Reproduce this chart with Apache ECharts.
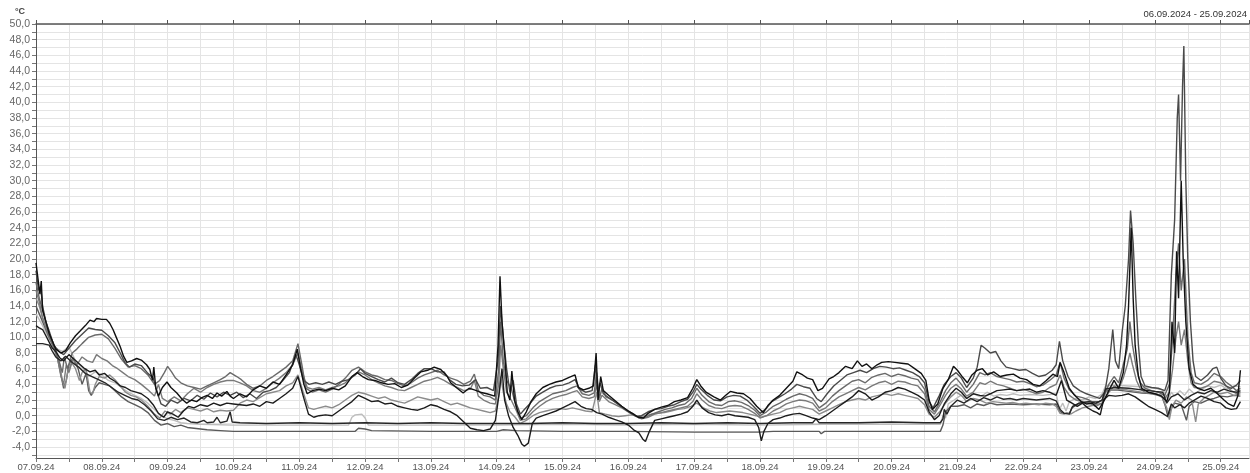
<!DOCTYPE html>
<html><head><meta charset="utf-8">
<script src="https://cdn.jsdelivr.net/npm/echarts@6/dist/echarts.min.js"></script>
<style>html,body{margin:0;padding:0;background:#fff}#c{width:1250px;height:473px}</style>
</head><body><div id="c"></div><script>
const unitLabel = '°C';
const rangeTitle = '06.09.2024 - 25.09.2024';
const monthSuffix = '.09.24';
const yLabelValues = [-4,-2,0,2,4,6,8,10,12,14,16,18,20,22,24,26,28,30,32,34,36,38,40,42,44,46,48,50];
const yTickValues = [-5,-4,-3,-2,-1,0,1,2,3,4,5,6,7,8,9,10,11,12,13,14,15,16,17,18,19,20,21,22,23,24,25,26,27,28,29,30,31,32,33,34,35,36,37,38,39,40,41,42,43,44,45,46,47,48,49,50];

// [day of September (fractional), °C]
const sensor1 = [[7.0,19.5],[7.03,17.5],[7.06,15.5],[7.08,17.2],[7.10,13.5],[7.15,12],[7.2,10.5],[7.25,9.5],[7.3,8.5],[7.38,8.0],[7.45,8.3],[7.52,9.3],[7.6,10.2],[7.67,10.8],[7.75,11.5],[7.82,12.2],[7.88,12.0],[7.92,12.4],[8.0,12.3],[8.07,12.3],[8.12,11.8],[8.17,11.0],[8.22,10],[8.28,8.8],[8.33,7.6],[8.38,6.8],[8.45,7.0],[8.53,7.3],[8.6,7.1],[8.68,6.5],[8.73,5.9],[8.77,4.5],[8.79,6.2],[8.82,3.5],[8.86,2.5],[8.92,3.6],[8.99,4.3],[9.05,3.6],[9.14,2.9],[9.22,2.1],[9.29,1.6],[9.36,2.0],[9.44,1.8],[9.52,2.3],[9.6,2.6],[9.68,2.2],[9.75,2.9],[9.82,2.5],[9.9,3.1],[9.95,2.5],[10.0,2.2],[10.1,2.8],[10.2,2.4],[10.3,3.3],[10.4,3.8],[10.5,3.5],[10.6,4.3],[10.7,4.0],[10.8,5.2],[10.9,6.5],[10.97,8.5],[11.02,6.0],[11.07,4.0],[11.12,2.8],[11.2,3.2],[11.3,3.4],[11.4,3.2],[11.5,3.5],[11.6,3.3],[11.7,3.8],[11.8,5.0],[11.88,5.5],[11.96,5.0],[12.05,4.6],[12.15,4.5],[12.25,4.2],[12.35,4.0],[12.45,4.1],[12.55,3.6],[12.65,3.9],[12.75,4.8],[12.85,5.6],[12.95,5.8],[13.05,6.2],[13.15,5.9],[13.25,5.0],[13.3,4.2],[13.4,3.5],[13.49,2.9],[13.58,3.5],[13.66,3.3],[13.75,3.0],[13.85,2.8],[13.97,2.5],[14.02,9],[14.05,17.8],[14.08,12],[14.12,8],[14.16,3],[14.2,2],[14.23,5.7],[14.27,2],[14.32,0.5],[14.38,-0.5],[14.45,0.5],[14.52,1.8],[14.6,2.8],[14.7,3.6],[14.8,4.0],[14.9,4.3],[15.0,4.5],[15.1,4.9],[15.19,5.2],[15.24,3.6],[15.32,3.3],[15.4,3.5],[15.47,3.8],[15.51,8.0],[15.54,2.0],[15.58,5.0],[15.62,3.2],[15.7,2.6],[15.8,1.9],[15.9,1.2],[16.0,0.6],[16.08,0.2],[16.15,-0.2],[16.23,-0.3],[16.3,0.3],[16.4,0.8],[16.5,1.1],[16.6,1.3],[16.7,1.8],[16.8,2.0],[16.9,2.3],[16.98,3.5],[17.04,4.6],[17.1,3.8],[17.18,3.0],[17.3,2.4],[17.4,2.0],[17.48,2.6],[17.55,3.1],[17.65,2.9],[17.75,2.8],[17.85,2.2],[17.95,1.2],[18.05,0.4],[18.12,1.3],[18.2,2.0],[18.3,2.6],[18.4,3.5],[18.5,4.4],[18.56,5.6],[18.65,5.2],[18.72,4.8],[18.8,4.6],[18.88,3.2],[18.95,3.5],[19.05,4.7],[19.12,5.0],[19.2,5.5],[19.3,6.3],[19.4,6.0],[19.48,7.0],[19.55,6.3],[19.62,6.6],[19.7,6.0],[19.78,6.5],[19.85,6.8],[19.95,6.9],[20.05,6.8],[20.15,6.7],[20.25,6.6],[20.35,6.0],[20.45,5.4],[20.52,4.5],[20.57,2.0],[20.62,0.8],[20.7,1.5],[20.78,3.5],[20.86,4.6],[20.94,6.3],[21.0,5.8],[21.08,4.9],[21.15,4.2],[21.22,5.2],[21.3,5.8],[21.38,6.0],[21.46,5.2],[21.55,5.6],[21.65,5.0],[21.75,5.2],[21.85,5.3],[21.95,4.8],[22.05,4.6],[22.15,4.0],[22.25,3.8],[22.35,4.5],[22.45,5.3],[22.52,5.0],[22.56,6.8],[22.62,5.5],[22.7,3.5],[22.78,2.6],[22.88,1.8],[22.96,1.5],[23.05,1.6],[23.15,0.8],[23.22,1.8],[23.3,3.2],[23.38,4.5],[23.45,3.5],[23.52,5.5],[23.57,9],[23.6,14],[23.64,24],[23.67,15],[23.7,9],[23.75,5],[23.8,3.5],[23.9,3.0],[24.0,2.8],[24.1,2.5],[24.18,1.8],[24.22,3],[24.26,12],[24.3,8],[24.33,21],[24.36,15],[24.4,30],[24.43,20],[24.47,12],[24.52,6],[24.58,4],[24.65,3.5],[24.75,3.2],[24.85,3.5],[24.95,2.8],[25.05,2.0],[25.12,1.5],[25.2,1.2],[25.26,2.5],[25.3,5.8]];

const sensor2 = [[7.0,18.5],[7.04,16],[7.07,16.5],[7.1,14],[7.15,12],[7.2,10.8],[7.27,9],[7.35,8.2],[7.42,7.8],[7.5,8.6],[7.6,9.6],[7.7,10.4],[7.8,11.2],[7.9,11.0],[8.0,10.9],[8.1,10.2],[8.2,9.3],[8.28,8.0],[8.35,6.8],[8.42,6.2],[8.5,6.6],[8.6,6.4],[8.7,5.4],[8.78,4.8],[8.84,3.0],[8.9,1.5],[8.97,1.2],[9.05,2.0],[9.15,1.6],[9.25,2.2],[9.35,1.9],[9.45,2.6],[9.55,2.1],[9.65,2.9],[9.75,2.4],[9.85,3.0],[9.95,2.6],[10.05,3.0],[10.15,2.3],[10.25,2.8],[10.35,2.2],[10.45,3.0],[10.55,3.2],[10.65,3.6],[10.75,4.5],[10.85,5.5],[10.95,7.8],[11.0,6.5],[11.07,4.5],[11.15,4.0],[11.25,4.2],[11.35,4.0],[11.45,4.3],[11.55,4.0],[11.65,4.4],[11.75,4.6],[11.85,5.2],[11.93,6.0],[12.0,5.4],[12.1,5.0],[12.2,4.6],[12.3,4.3],[12.4,4.8],[12.5,4.2],[12.6,4.0],[12.7,4.6],[12.8,5.4],[12.9,6.0],[13.0,6.0],[13.1,5.6],[13.2,5.6],[13.28,4.6],[13.38,4.0],[13.48,3.8],[13.58,3.9],[13.68,4.6],[13.75,3.5],[13.85,3.6],[13.95,3.2],[14.02,7],[14.06,14],[14.1,10],[14.15,6],[14.2,3],[14.25,4.5],[14.3,1.5],[14.36,0.2],[14.42,0.8],[14.5,1.5],[14.6,2.5],[14.7,3.0],[14.8,3.5],[14.9,3.8],[15.0,3.9],[15.1,4.2],[15.19,4.6],[15.26,3.4],[15.35,3.0],[15.45,3.2],[15.5,6.5],[15.53,3],[15.57,4.2],[15.62,2.8],[15.72,2.2],[15.82,1.6],[15.92,1.0],[16.02,0.4],[16.12,-0.1],[16.2,0.0],[16.3,0.5],[16.4,0.8],[16.5,0.9],[16.6,1.2],[16.7,1.4],[16.8,1.8],[16.9,2.1],[16.98,3.0],[17.04,4.0],[17.1,3.4],[17.2,2.6],[17.3,2.0],[17.4,1.9],[17.5,2.4],[17.6,2.6],[17.7,2.5],[17.8,2.0],[17.9,1.2],[18.0,0.3],[18.08,0.8],[18.18,1.8],[18.28,2.3],[18.38,2.8],[18.48,3.4],[18.56,4.0],[18.66,3.7],[18.76,3.5],[18.86,2.2],[18.93,1.8],[19.02,2.8],[19.12,3.8],[19.22,4.5],[19.32,5.2],[19.42,5.5],[19.52,5.8],[19.62,5.5],[19.72,6.0],[19.82,6.3],[19.92,6.2],[20.02,6.0],[20.12,6.1],[20.22,5.8],[20.32,5.5],[20.42,5.0],[20.5,4.2],[20.57,1.8],[20.63,1.0],[20.72,2.5],[20.8,4.0],[20.9,5.0],[20.98,5.5],[21.06,4.8],[21.14,3.6],[21.24,4.8],[21.3,6.2],[21.36,9.0],[21.42,8.6],[21.5,8.0],[21.58,8.2],[21.66,7.0],[21.74,6.2],[21.84,6.0],[21.94,5.8],[22.04,5.9],[22.14,5.4],[22.24,5.0],[22.34,5.2],[22.44,5.8],[22.5,6.5],[22.55,9.5],[22.6,7.0],[22.68,5.0],[22.76,3.8],[22.86,3.2],[22.96,2.8],[23.06,2.5],[23.16,2.2],[23.24,3.0],[23.3,6.0],[23.36,11.0],[23.4,7],[23.45,6],[23.5,10.5],[23.55,14],[23.6,20],[23.63,26.2],[23.67,22],[23.71,15],[23.75,9],[23.79,5],[23.85,3.8],[23.95,3.6],[24.05,3.5],[24.15,3.2],[24.2,4.5],[24.25,18],[24.3,25],[24.34,38],[24.36,41],[24.39,30],[24.42,42],[24.44,47.2],[24.47,30],[24.5,20],[24.54,12],[24.58,7],[24.62,5],[24.7,4.5],[24.8,5.2],[24.88,6.0],[24.94,6.2],[25.0,4.8],[25.08,3.8],[25.16,3.5],[25.24,3.9],[25.3,4.5]];

const sensor3 = [[7.0,17],[7.05,15],[7.1,13.5],[7.15,12],[7.2,10.2],[7.28,8.5],[7.35,7.0],[7.4,5.5],[7.43,7.5],[7.48,6.0],[7.55,8.0],[7.62,8.5],[7.7,9.2],[7.8,10.0],[7.9,10.3],[8.0,10.4],[8.1,9.8],[8.2,8.6],[8.3,7.2],[8.4,6.2],[8.5,6.4],[8.6,6.0],[8.7,5.2],[8.8,4.0],[8.88,4.5],[8.95,5.5],[9.0,6.3],[9.06,5.6],[9.12,4.8],[9.2,4.2],[9.3,3.8],[9.4,3.6],[9.5,3.4],[9.6,3.8],[9.7,4.2],[9.8,4.6],[9.88,5.0],[9.95,5.5],[10.05,5.0],[10.12,4.6],[10.2,4.0],[10.3,3.5],[10.4,3.8],[10.5,4.5],[10.6,5.0],[10.7,5.6],[10.8,6.2],[10.9,7.0],[10.98,9.2],[11.04,6.5],[11.1,3.5],[11.2,3.0],[11.3,3.3],[11.4,3.0],[11.5,3.4],[11.6,4.0],[11.7,4.8],[11.8,5.8],[11.9,6.2],[12.0,5.6],[12.1,5.2],[12.2,5.0],[12.3,4.6],[12.4,4.5],[12.5,4.1],[12.6,3.8],[12.7,4.2],[12.8,4.8],[12.9,5.2],[13.0,5.5],[13.1,5.8],[13.2,5.2],[13.3,4.8],[13.4,4.5],[13.5,4.0],[13.6,4.4],[13.66,5.3],[13.72,3.2],[13.8,2.6],[13.9,2.4],[13.98,2.0],[14.03,6],[14.06,12],[14.1,7],[14.15,4.5],[14.22,3.5],[14.3,1.0],[14.36,-0.3],[14.45,0.0],[14.55,1.0],[14.65,1.8],[14.75,2.3],[14.85,2.8],[14.95,3.0],[15.05,3.2],[15.15,3.6],[15.22,3.8],[15.3,2.8],[15.4,2.6],[15.48,2.9],[15.52,5.5],[15.56,2.2],[15.6,3.5],[15.66,2.4],[15.76,2.0],[15.86,1.4],[15.96,0.8],[16.06,0.3],[16.16,-0.3],[16.26,-0.2],[16.36,0.2],[16.46,0.5],[16.56,0.8],[16.66,1.0],[16.76,1.3],[16.86,1.5],[16.96,2.2],[17.04,3.5],[17.12,2.6],[17.22,1.8],[17.32,1.4],[17.42,1.3],[17.52,1.8],[17.62,1.9],[17.72,1.7],[17.82,1.3],[17.92,0.7],[18.0,0.0],[18.1,0.5],[18.2,1.2],[18.3,1.6],[18.4,2.1],[18.5,2.5],[18.6,2.8],[18.7,2.6],[18.8,2.2],[18.9,1.0],[19.0,1.6],[19.1,2.5],[19.2,3.2],[19.3,3.8],[19.4,4.4],[19.5,4.6],[19.6,4.2],[19.7,4.9],[19.8,5.2],[19.9,5.4],[20.0,5.0],[20.1,5.3],[20.2,5.1],[20.3,4.8],[20.4,4.6],[20.5,3.4],[20.57,1.2],[20.65,0.5],[20.74,1.8],[20.82,3.2],[20.9,4.2],[20.98,4.8],[21.06,4.0],[21.14,3.0],[21.24,4.0],[21.34,5.5],[21.42,5.2],[21.5,5.5],[21.6,5.0],[21.7,4.8],[21.8,4.6],[21.9,4.3],[22.0,4.4],[22.1,4.1],[22.2,3.7],[22.3,3.9],[22.4,4.5],[22.5,5.2],[22.56,6.8],[22.62,4.8],[22.7,3.3],[22.8,2.5],[22.9,2.3],[23.0,2.0],[23.1,1.5],[23.2,2.0],[23.3,4.0],[23.38,5.0],[23.45,4.2],[23.52,6.5],[23.58,8.5],[23.62,12],[23.66,9],[23.72,6],[23.78,4.2],[23.85,3.5],[23.95,3.2],[24.05,3.0],[24.15,2.6],[24.22,4],[24.27,10],[24.32,18],[24.36,22],[24.4,16],[24.45,20],[24.5,10],[24.55,5.5],[24.6,4.2],[24.7,4.0],[24.8,4.5],[24.9,5.4],[25.0,5.0],[25.08,4.3],[25.16,3.8],[25.24,3.2],[25.3,3.5]];

const sensor4 = [[7.0,16],[7.05,14.5],[7.1,12.5],[7.15,11.2],[7.2,10],[7.27,8.6],[7.33,7.2],[7.38,5.0],[7.42,4.0],[7.46,6.5],[7.5,5.5],[7.56,7.2],[7.62,6.5],[7.7,7.5],[7.78,7.0],[7.86,6.8],[7.92,7.8],[8.0,7.3],[8.08,7.0],[8.16,6.4],[8.24,6.0],[8.32,5.5],[8.4,5.0],[8.5,4.6],[8.6,4.0],[8.7,3.3],[8.8,2.5],[8.86,4.0],[8.92,2.2],[9.0,1.8],[9.1,2.4],[9.2,1.9],[9.3,2.8],[9.4,3.5],[9.5,3.0],[9.6,3.6],[9.7,4.0],[9.8,4.3],[9.9,4.5],[10.0,4.5],[10.1,4.2],[10.2,3.8],[10.3,3.2],[10.4,3.0],[10.5,3.5],[10.6,4.2],[10.7,4.8],[10.8,5.5],[10.9,6.5],[10.98,8.0],[11.05,5.5],[11.12,3.6],[11.2,3.4],[11.3,3.6],[11.4,3.3],[11.5,3.6],[11.6,3.8],[11.7,4.2],[11.8,5.0],[11.9,5.6],[12.0,5.2],[12.1,4.6],[12.2,4.2],[12.3,3.8],[12.4,3.6],[12.5,3.3],[12.6,3.2],[12.7,3.6],[12.8,4.0],[12.9,4.4],[13.0,4.6],[13.1,4.9],[13.2,4.5],[13.3,4.0],[13.4,3.6],[13.5,3.2],[13.6,3.4],[13.66,4.5],[13.72,2.5],[13.8,2.0],[13.9,1.6],[13.98,1.5],[14.03,4],[14.06,9],[14.1,6],[14.15,3],[14.22,2.0],[14.3,0.6],[14.36,-0.6],[14.45,-0.4],[14.55,0.5],[14.65,1.2],[14.75,1.8],[14.85,2.2],[14.95,2.5],[15.05,2.7],[15.15,3.0],[15.22,3.2],[15.3,2.4],[15.4,2.2],[15.48,2.4],[15.52,4.0],[15.56,1.8],[15.6,2.6],[15.7,1.8],[15.8,1.4],[15.9,1.0],[16.0,0.5],[16.1,0.0],[16.2,-0.4],[16.3,-0.2],[16.4,0.2],[16.5,0.4],[16.6,0.6],[16.7,0.8],[16.8,1.0],[16.9,1.2],[16.98,1.8],[17.04,2.8],[17.12,2.0],[17.22,1.3],[17.32,1.0],[17.42,0.9],[17.52,1.2],[17.62,1.3],[17.72,1.2],[17.82,0.8],[17.92,0.3],[18.0,-0.3],[18.1,0.0],[18.2,0.6],[18.3,1.0],[18.4,1.5],[18.5,1.8],[18.6,2.0],[18.7,1.9],[18.8,1.6],[18.9,0.6],[19.0,1.0],[19.1,1.8],[19.2,2.4],[19.3,2.8],[19.4,3.2],[19.5,3.6],[19.6,3.3],[19.7,3.8],[19.8,4.2],[19.9,4.4],[20.0,4.0],[20.1,4.4],[20.2,4.3],[20.3,4.0],[20.4,3.8],[20.5,2.8],[20.57,0.8],[20.65,0.2],[20.74,1.4],[20.82,2.6],[20.9,3.5],[20.98,4.0],[21.06,3.4],[21.14,2.5],[21.24,3.0],[21.34,4.2],[21.42,4.0],[21.5,4.4],[21.6,4.0],[21.7,3.8],[21.8,3.5],[21.9,3.2],[22.0,3.4],[22.1,3.1],[22.2,2.8],[22.3,3.0],[22.4,3.6],[22.5,4.0],[22.56,5.2],[22.62,3.6],[22.7,2.6],[22.8,2.0],[22.9,1.8],[23.0,1.6],[23.1,1.2],[23.2,1.6],[23.3,3.0],[23.38,3.8],[23.45,3.4],[23.52,4.8],[23.58,6.5],[23.62,8],[23.66,6.5],[23.72,4.5],[23.78,3.4],[23.85,3.0],[23.95,2.8],[24.05,2.6],[24.15,2.2],[24.22,3],[24.27,6],[24.32,10],[24.36,12],[24.4,9],[24.45,11],[24.5,7],[24.55,4.2],[24.6,3.6],[24.7,3.5],[24.8,3.8],[24.9,4.4],[25.0,4.2],[25.08,3.8],[25.16,3.2],[25.24,2.8],[25.3,3.0]];

const sensor5 = [[7.0,11.5],[7.05,11.2],[7.1,11.0],[7.15,10.2],[7.2,9.4],[7.25,8.6],[7.3,8.2],[7.36,7.4],[7.42,7.0],[7.5,7.8],[7.58,7.2],[7.66,6.6],[7.74,6.0],[7.82,5.6],[7.9,5.8],[7.96,5.2],[8.04,5.4],[8.12,4.8],[8.2,4.4],[8.28,3.8],[8.36,3.6],[8.44,3.2],[8.52,3.0],[8.6,2.8],[8.7,2.2],[8.78,1.4],[8.86,0.3],[8.94,-0.2],[9.0,0.5],[9.08,0.2],[9.16,-0.2],[9.24,0.6],[9.32,1.2],[9.4,1.0],[9.5,1.4],[9.6,1.2],[9.7,1.6],[9.8,1.3],[9.9,1.6],[10.0,1.5],[10.1,1.4],[10.2,1.3],[10.3,1.5],[10.4,1.2],[10.5,1.8],[10.6,1.6],[10.7,2.2],[10.8,2.8],[10.9,3.5],[10.98,5.0],[11.06,2.5],[11.14,0.2],[11.22,-0.2],[11.3,0.0],[11.4,0.1],[11.5,0.0],[11.6,0.6],[11.7,1.2],[11.8,1.8],[11.9,2.6],[12.0,2.2],[12.1,1.8],[12.2,1.9],[12.3,1.5],[12.4,1.6],[12.5,1.2],[12.6,1.0],[12.7,0.8],[12.8,0.7],[12.9,1.0],[13.0,1.4],[13.1,1.2],[13.2,0.8],[13.3,0.5],[13.4,0.0],[13.5,-0.8],[13.6,-1.6],[13.7,-1.8],[13.8,-1.9],[13.9,-1.7],[13.98,-0.6],[14.04,3.0],[14.08,6.0],[14.12,2.0],[14.18,0.0],[14.25,-1.5],[14.32,-2.5],[14.38,-3.6],[14.42,-3.9],[14.48,-3.5],[14.54,-1.0],[14.6,-0.3],[14.7,0.0],[14.8,0.3],[14.9,0.6],[15.0,1.0],[15.1,1.4],[15.19,1.8],[15.28,1.2],[15.36,0.9],[15.44,0.8],[15.52,0.4],[15.6,0.2],[15.7,-0.2],[15.8,-0.5],[15.9,-0.8],[16.0,-1.2],[16.08,-1.8],[16.16,-2.2],[16.22,-3.0],[16.26,-3.3],[16.32,-2.0],[16.4,-0.6],[16.5,-0.4],[16.6,-0.2],[16.7,0.0],[16.8,0.2],[16.9,0.5],[16.98,1.2],[17.04,2.0],[17.12,1.0],[17.22,0.4],[17.32,0.1],[17.42,0.0],[17.52,0.2],[17.62,0.0],[17.72,-0.1],[17.82,-0.2],[17.92,-0.5],[17.98,-1.5],[18.02,-3.2],[18.06,-2.0],[18.12,-1.0],[18.2,-0.5],[18.3,-0.3],[18.4,0.0],[18.5,0.2],[18.6,0.3],[18.7,0.0],[18.8,-0.3],[18.9,-0.5],[19.0,0.0],[19.1,0.6],[19.2,1.2],[19.3,1.8],[19.4,2.4],[19.5,3.2],[19.6,2.8],[19.7,2.0],[19.8,2.4],[19.9,3.0],[20.0,3.2],[20.1,3.6],[20.2,3.4],[20.3,3.0],[20.4,2.6],[20.5,2.0],[20.57,0.5],[20.65,-0.5],[20.72,0.0],[20.8,1.5],[20.9,2.8],[20.98,3.5],[21.06,3.0],[21.14,2.2],[21.24,2.8],[21.34,2.6],[21.42,2.5],[21.5,2.8],[21.6,3.2],[21.7,3.3],[21.8,3.4],[21.9,3.2],[22.0,3.3],[22.1,3.4],[22.2,3.0],[22.3,3.2],[22.4,3.0],[22.5,2.6],[22.58,4.5],[22.66,2.0],[22.74,1.6],[22.82,1.2],[22.9,1.6],[22.98,1.0],[23.06,0.6],[23.12,0.4],[23.17,0.1],[23.22,2.0],[23.3,2.6],[23.4,2.5],[23.5,2.6],[23.6,2.8],[23.7,2.4],[23.8,1.8],[23.9,1.2],[24.0,0.8],[24.1,0.4],[24.19,-0.1],[24.25,1.5],[24.3,1.0],[24.38,1.4],[24.45,1.0],[24.52,1.6],[24.6,2.0],[24.7,2.5],[24.8,2.2],[24.9,1.8],[25.0,1.6],[25.08,1.0],[25.16,0.8],[25.24,0.9],[25.3,1.8]];

const sensor6 = [[7.0,15],[7.05,14],[7.1,12.5],[7.15,11.4],[7.2,10.5],[7.3,8.5],[7.36,6.5],[7.4,4.5],[7.44,3.5],[7.48,5.5],[7.54,6.8],[7.6,6.0],[7.66,4.5],[7.7,5.5],[7.76,6.0],[7.82,3.0],[7.86,2.8],[7.9,4.0],[7.96,5.0],[8.04,4.8],[8.12,5.2],[8.2,4.6],[8.28,3.8],[8.36,3.0],[8.44,2.6],[8.52,2.4],[8.6,2.0],[8.7,1.2],[8.8,0.2],[8.88,-0.3],[8.96,0.6],[9.04,0.2],[9.12,0.8],[9.2,0.4],[9.3,1.0],[9.4,0.8],[9.5,0.6],[9.6,0.9],[9.7,0.5],[9.8,0.7],[9.9,0.6],[10.0,0.7],[10.1,1.6],[10.2,2.0],[10.3,1.8],[10.4,2.3],[10.5,2.8],[10.6,3.0],[10.7,3.2],[10.8,3.8],[10.9,4.2],[10.98,5.2],[11.06,3.0],[11.14,1.0],[11.22,0.8],[11.3,1.0],[11.4,1.2],[11.5,1.0],[11.6,1.4],[11.7,2.0],[11.8,2.6],[11.9,3.0],[12.0,2.8],[12.1,2.5],[12.2,2.2],[12.3,2.4],[12.4,2.0],[12.5,1.8],[12.6,1.6],[12.7,2.0],[12.8,2.4],[12.9,2.2],[13.0,2.0],[13.1,2.2],[13.2,1.8],[13.3,1.4],[13.4,1.6],[13.5,1.3],[13.6,1.0],[13.7,0.8],[13.8,0.6],[13.9,0.4],[13.98,0.6],[14.03,2.5],[14.06,5.0],[14.1,3.0],[14.15,1.5],[14.2,0.5],[14.28,-0.2],[14.35,-1.0],[14.45,-0.6],[14.55,0.0],[14.65,0.4],[14.75,0.6],[14.85,0.8],[14.95,0.9],[15.05,0.8],[15.15,1.0],[15.25,0.8],[15.35,0.6],[15.45,0.5],[15.52,3.0],[15.56,0.4],[15.65,0.2],[15.75,0.0],[15.85,-0.1],[15.95,0.0],[16.05,0.1],[16.15,-0.1],[16.25,0.0],[16.35,0.2],[16.45,0.3],[16.55,0.4],[16.65,0.6],[16.75,0.8],[16.85,0.9],[16.95,1.2],[17.04,1.6],[17.14,1.0],[17.24,0.6],[17.34,0.4],[17.44,0.5],[17.54,0.6],[17.64,0.5],[17.74,0.4],[17.84,0.2],[17.94,0.0],[18.02,-0.2],[18.1,0.0],[18.2,0.2],[18.3,0.4],[18.4,0.8],[18.5,1.0],[18.6,1.2],[18.7,1.0],[18.8,0.8],[18.9,0.2],[19.0,0.6],[19.1,1.0],[19.2,1.4],[19.3,1.8],[19.4,2.0],[19.5,2.2],[19.6,2.0],[19.7,2.4],[19.8,2.6],[19.9,2.8],[20.0,2.6],[20.1,2.8],[20.2,2.6],[20.3,2.4],[20.4,2.2],[20.5,1.4],[20.57,0.2],[20.65,-0.2],[20.74,0.6],[20.82,1.6],[20.9,2.4],[20.98,3.0],[21.06,2.6],[21.14,1.8],[21.24,2.2],[21.34,2.0],[21.44,1.6],[21.54,1.8],[21.64,1.7],[21.74,1.6],[21.84,1.7],[21.94,1.5],[22.04,1.6],[22.14,1.5],[22.24,1.4],[22.34,1.6],[22.44,1.5],[22.5,1.2],[22.56,0.3],[22.62,0.2],[22.66,0.4],[22.72,0.2],[22.8,0.6],[22.9,1.0],[23.0,1.2],[23.1,1.4],[23.2,1.6],[23.25,3.0],[23.35,3.3],[23.5,3.4],[23.65,3.2],[23.8,3.0],[23.95,2.9],[24.1,2.6],[24.18,1.0],[24.22,-0.5],[24.26,1.2],[24.32,2.0],[24.4,1.6],[24.48,2.4],[24.56,2.0],[24.62,-0.8],[24.66,1.5],[24.74,2.2],[24.82,2.6],[24.9,3.0],[25.0,2.8],[25.1,3.0],[25.2,2.6],[25.3,2.8]];

const sensor7 = [[7.0,9.2],[7.1,9.2],[7.2,9.0],[7.25,8.2],[7.3,7.5],[7.38,7.0],[7.45,7.6],[7.55,6.8],[7.65,6.2],[7.75,5.4],[7.85,5.0],[7.95,4.6],[8.05,4.2],[8.15,3.6],[8.25,3.0],[8.35,2.6],[8.45,2.2],[8.55,2.0],[8.65,1.4],[8.75,0.6],[8.85,-0.4],[8.95,-0.6],[9.05,-0.2],[9.15,-0.5],[9.25,-0.3],[9.35,-0.8],[9.45,-0.9],[9.55,-0.6],[9.6,-0.9],[9.7,-0.8],[9.75,-0.2],[9.8,-0.9],[9.9,-0.7],[9.95,0.5],[9.98,-0.8],[10.1,-0.9],[10.5,-1.0],[11.0,-0.9],[11.5,-1.0],[12.0,-0.9],[12.5,-1.0],[13.0,-0.9],[13.5,-1.0],[14.0,-1.0],[14.5,-1.0],[15.0,-0.9],[15.5,-1.0],[16.0,-1.0],[16.5,-0.9],[17.0,-1.0],[17.5,-0.9],[18.0,-1.0],[18.5,-0.9],[18.8,-0.9],[18.85,-0.4],[18.9,-0.9],[19.5,-0.9],[20.0,-0.8],[20.5,-0.9],[20.74,-0.9],[20.78,-0.4],[20.8,0.8],[20.84,0.2],[20.9,1.2],[21.0,2.0],[21.1,1.6],[21.2,2.2],[21.3,1.8],[21.4,2.3],[21.5,2.0],[21.6,2.4],[21.7,2.1],[21.8,2.2],[21.9,2.0],[22.0,2.2],[22.2,2.0],[22.4,2.2],[22.5,1.9],[22.56,0.8],[22.62,0.3],[22.7,0.2],[22.75,1.2],[22.85,1.6],[23.0,1.8],[23.1,1.6],[23.2,2.0],[23.25,3.4],[23.4,3.6],[23.6,3.5],[23.8,3.3],[24.0,3.1],[24.12,3.0],[24.18,1.6],[24.25,2.4],[24.35,2.8],[24.45,2.0],[24.55,2.6],[24.65,3.0],[24.75,2.8],[24.85,3.2],[24.95,3.0],[25.05,3.4],[25.15,3.1],[25.25,3.0],[25.3,3.2]];

const sensor8 = [[7.0,14],[7.05,13],[7.1,12],[7.2,10],[7.3,8.4],[7.36,6],[7.42,3.5],[7.46,4.5],[7.5,6.5],[7.56,7.4],[7.64,6.0],[7.7,4.0],[7.76,5.4],[7.8,3.2],[7.84,2.6],[7.9,3.6],[7.96,4.2],[8.04,4.0],[8.12,3.8],[8.2,3.2],[8.3,2.4],[8.4,1.8],[8.5,1.4],[8.6,1.0],[8.7,0.4],[8.8,-0.6],[8.9,-1.2],[9.0,-1.0],[9.1,-1.4],[9.2,-1.2],[9.3,-1.5],[9.4,-1.6],[9.5,-1.7],[9.6,-1.8],[9.8,-1.9],[10.0,-2.0],[11.0,-2.0],[11.85,-2.0],[11.9,-1.6],[12.0,-1.7],[12.1,-1.9],[13.0,-2.0],[14.0,-2.0],[14.1,-1.8],[14.3,-1.9],[15.0,-2.0],[16.0,-2.0],[17.0,-2.1],[18.0,-2.1],[18.2,-2.0],[18.9,-2.0],[18.93,-2.3],[18.98,-2.0],[20.0,-2.0],[20.74,-2.0],[20.78,-1.2],[20.82,0.5],[20.9,1.2],[21.0,1.2],[21.1,1.4],[21.2,1.0],[21.3,1.5],[21.4,1.3],[21.5,1.6],[21.6,1.4],[21.8,1.5],[22.0,1.4],[22.2,1.5],[22.4,1.4],[22.5,1.5],[22.55,0.6],[22.6,0.3],[22.7,0.3],[22.74,1.0],[22.85,1.6],[23.0,1.8],[23.15,1.8],[23.2,2.0],[23.24,3.2],[23.4,3.3],[23.6,3.1],[23.8,2.9],[24.0,2.8],[24.1,2.6],[24.16,1.2],[24.2,-0.2],[24.24,0.8],[24.3,1.6],[24.4,1.4],[24.48,-0.6],[24.52,1.2],[24.6,1.8],[24.7,1.6],[24.8,2.0],[24.9,2.2],[25.0,2.5],[25.1,2.4],[25.2,2.6],[25.3,2.5]];

const sensor9 = [[7.0,13],[7.1,11.5],[7.2,9.8],[7.3,8.6],[7.4,8.2],[7.5,8.8],[7.6,7.0],[7.7,6.2],[7.8,5.0],[7.9,5.6],[8.0,5.2],[8.1,4.5],[8.2,4.2],[8.3,3.6],[8.4,3.0],[8.5,2.6],[8.6,2.2],[8.7,1.6],[8.8,0.8],[8.9,0.0],[9.0,-0.4],[9.1,-0.6],[9.2,-0.9],[9.3,-1.0],[9.5,-1.1],[10.0,-1.2],[11.0,-1.2],[11.75,-1.2],[11.8,-0.2],[11.85,0.1],[11.95,0.2],[12.0,-0.3],[12.05,-1.2],[13.0,-1.2],[14.0,-1.2],[15.0,-1.1],[16.0,-1.2],[17.0,-1.1],[18.0,-1.2],[19.0,-1.1],[20.0,-1.1],[20.74,-1.1],[20.78,0.0],[20.82,-0.3],[20.86,1.5],[20.95,2.0],[21.05,2.6],[21.15,2.2],[21.25,2.8],[21.35,2.4],[21.45,3.0],[21.55,2.5],[21.65,2.7],[21.75,2.6],[21.85,2.8],[21.95,2.6],[22.1,2.7],[22.3,2.6],[22.5,2.8],[22.55,0.8],[22.6,1.6],[22.65,0.6],[22.7,1.8],[22.8,2.2],[22.9,2.0],[23.0,2.4],[23.1,2.2],[23.2,2.8],[23.25,3.8],[23.4,3.9],[23.6,3.8],[23.8,3.7],[24.0,3.5],[24.12,3.3],[24.2,2.0],[24.25,3.0],[24.3,2.5],[24.38,3.2],[24.45,2.6],[24.52,3.4],[24.6,2.8],[24.7,3.3],[24.8,3.8],[24.9,3.6],[25.0,3.9],[25.1,3.4],[25.2,3.8],[25.3,3.7]];

const seriesList = [
  {data: sensor9, color: '#bdbdbd'},
  {data: sensor8, color: '#5a5a5a'},
  {data: sensor6, color: '#8c8c8c'},
  {data: sensor4, color: '#7a7a7a'},
  {data: sensor3, color: '#6a6a6a'},
  {data: sensor2, color: '#4a4a4a'},
  {data: sensor7, color: '#262626'},
  {data: sensor5, color: '#1c1c1c'},
  {data: sensor1, color: '#111111'}
];

const font = '"Liberation Sans", Arial, sans-serif';
const pad2 = n => (n < 10 ? '0' : '') + n;
const chart = echarts.init(document.getElementById('c'), null, {renderer: 'canvas'});
chart.setOption({
  animation: false,
  backgroundColor: '#ffffff',
  textStyle: {fontFamily: font},
  grid: {left: 36, right: 1, top: 24, bottom: 15, containLabel: false},
  graphic: [
    {type: 'text', left: 15, top: 7, style: {text: unitLabel, font: 'bold 9px ' + font, fill: '#444'}},
    {type: 'text', right: 3, top: 9, style: {text: rangeTitle, font: '9.5px ' + font, fill: '#333'}}
  ],
  xAxis: [
    {
      type: 'value', min: 7, max: 25.43, interval: 0.5, position: 'bottom',
      axisLine: {show: true, onZero: false, lineStyle: {color: '#555', width: 1}},
      axisTick: {show: true, length: 4, lineStyle: {color: '#777'}},
      axisLabel: {
        color: '#555', fontSize: 9.5, margin: 4, showMaxLabel: false,
        formatter: v => Math.abs(v - Math.round(v)) < 1e-6 ? pad2(Math.round(v)) + monthSuffix : ''
      },
      splitLine: {show: true, lineStyle: {color: '#e4e4e4', width: 1}}
    },
    {
      type: 'value', min: 7, max: 25.43, interval: 1, position: 'top',
      axisLine: {show: true, onZero: false, lineStyle: {color: '#555', width: 1.5}},
      axisTick: {show: true, length: 4, lineStyle: {color: '#555'}},
      axisLabel: {show: false},
      splitLine: {show: false}
    }
  ],
  yAxis: {
    type: 'value', min: -5.4, max: 50,
    axisLine: {show: true, onZero: false, lineStyle: {color: '#555', width: 1}},
    axisTick: {show: true, length: 4, customValues: yTickValues, lineStyle: {color: '#777'}},
    axisLabel: {
      color: '#666', fontSize: 10.5, margin: 6, customValues: yLabelValues,
      formatter: v => v.toFixed(1).replace('.', ',')
    },
    splitLine: {show: true, lineStyle: {color: '#e4e4e4', width: 1}}
  },
  series: seriesList.map((s, i) => ({
    type: 'line', xAxisIndex: 0, data: s.data, showSymbol: false, symbol: 'none',
    lineStyle: {color: s.color, width: 1.4}, z: 2 + i, silent: true
  }))
});
</script></body></html>
